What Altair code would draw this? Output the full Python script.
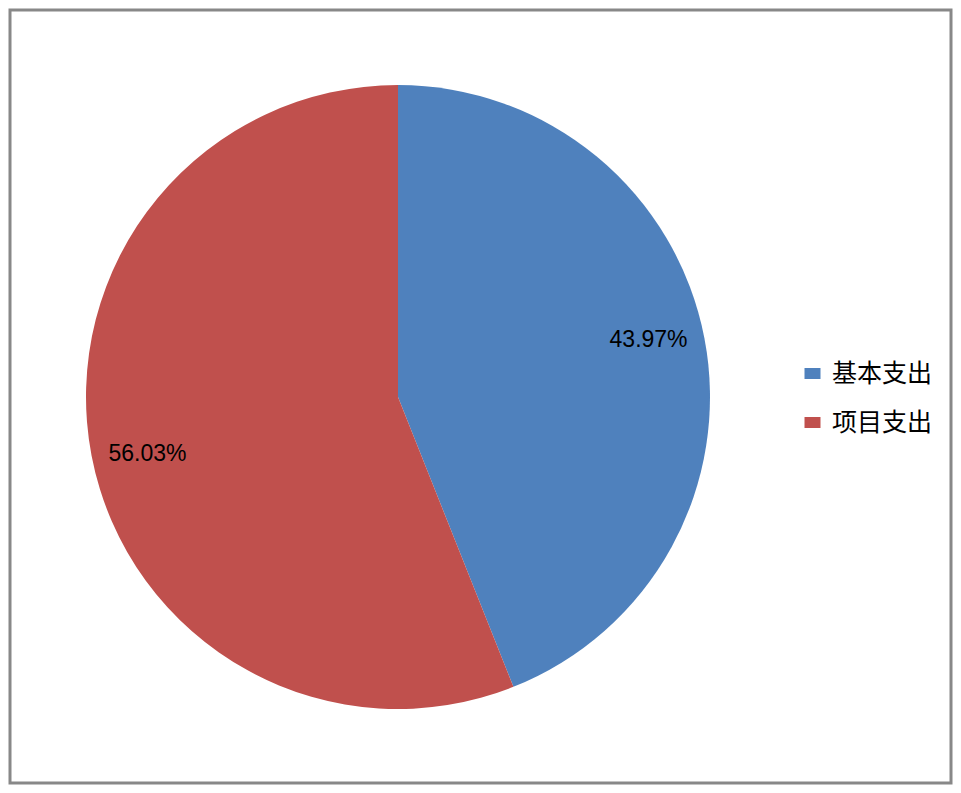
import altair as alt
import pandas as pd

categories = ["基本支出", "项目支出"]
values = [43.97, 56.03]
labels = ["43.97%", "56.03%"]
colors = ["#4F81BD", "#C0504D"]

df = pd.DataFrame({"category": categories, "value": values, "label": labels, "order": [0, 1]})

PAD = 2
W, H = 941, 773
CX, CY = 398 - 8 - PAD, 397 - 8 - PAD
R = 312

base = alt.Chart(df).encode(
    theta=alt.Theta("value:Q", stack=True),
    order=alt.Order("order:Q"),
    x=alt.value(CX),
    y=alt.value(CY),
)

pie = base.mark_arc(radius=R, strokeWidth=0).encode(
    color=alt.Color(
        "category:N",
        scale=alt.Scale(domain=categories, range=colors),
        sort=categories,
        legend=alt.Legend(
            title=None,
            orient="none",
            legendX=800 - 8 - PAD,
            legendY=361 - 8 - PAD,
            symbolType="M-1,-0.69H1V0.69H-1Z",
            symbolSize=256,
            symbolStrokeWidth=0,
            labelFont="Noto Sans CJK SC",
            labelFontSize=25,
            labelColor="#000000",
            labelOffset=7,
            rowPadding=23,
            padding=0,
        ),
    )
)

text = base.mark_text(
    radius=257, thetaOffset=-0.035, fontSize=23, font="Liberation Sans", color="#000000"
).encode(text="label:N")

chart = (
    alt.layer(pie, text)
    .properties(width=W, height=H, padding=PAD, autosize=alt.AutoSizeParams(type="none"), background="white")
    .configure_view(stroke="#888888", strokeWidth=3)
)

chart.save("out.html", embed_options={"renderer": "svg", "actions": False})
